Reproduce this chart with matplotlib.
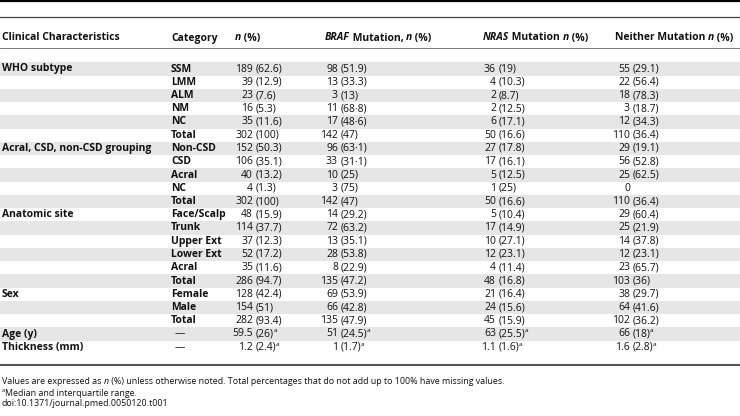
import matplotlib.pyplot as plt

plt.rcParams['font.family'] = ['Open Sans', 'DejaVu Sans']

# Table data
groups = ["WHO subtype", "", "", "", "", "",
          "Acral, CSD, non-CSD grouping", "", "", "", "",
          "Anatomic site", "", "", "", "", "",
          "Sex", "", "",
          "Age (y)", "Thickness (mm)"]
categories = ["SSM", "LMM", "ALM", "NM", "NC", "Total",
              "Non-CSD", "CSD", "Acral", "NC", "Total",
              "Face/Scalp", "Trunk", "Upper Ext", "Lower Ext", "Acral", "Total",
              "Female", "Male", "Total",
              "\u2014", "\u2014"]
n_pct = ["189 (62.6)", "39 (12.9)", "23 (7.6)", "16 (5.3)", "35 (11.6)", "302 (100)",
         "152 (50.3)", "106 (35.1)", "40 (13.2)", "4 (1.3)", "302 (100)",
         "48 (15.9)", "114 (37.7)", "37 (12.3)", "52 (17.2)", "35 (11.6)", "286 (94.7)",
         "128 (42.4)", "154 (51)", "282 (93.4)",
         "59.5 (26)^a", "1.2 (2.4)^a"]
braf = ["98 (51.9)", "13 (33.3)", "3 (13)", "11 (68\u00b78)", "17 (48\u00b76)", "142 (47)",
        "96 (63\u00b71)", "33 (31\u00b71)", "10 (25)", "3 (75)", "142 (47)",
        "14 (29.2)", "72 (63.2)", "13 (35.1)", "28 (53.8)", "8 (22.9)", "135 (47.2)",
        "69 (53.9)", "66 (42.8)", "135 (47.9)",
        "51 (24.5)^a", "1 (1.7)^a"]
nras = ["36 (19)", "4 (10.3)", "2 (8.7)", "2 (12.5)", "6 (17.1)", "50 (16.6)",
        "27 (17.8)", "17 (16.1)", "5 (12.5)", "1 (25)", "50 (16.6)",
        "5 (10.4)", "17 (14.9)", "10 (27.1)", "12 (23.1)", "4 (11.4)", "48 (16.8)",
        "21 (16.4)", "24 (15.6)", "45 (15.9)",
        "63 (25.5)^a", "1.1 (1.6)^a"]
neither = ["55 (29.1)", "22 (56.4)", "18 (78.3)", "3 (18.7)", "12 (34.3)", "110 (36.4)",
           "29 (19.1)", "56 (52.8)", "25 (62.5)", "0", "110 (36.4)",
           "29 (60.4)", "25 (21.9)", "14 (37.8)", "12 (23.1)", "23 (65.7)", "103 (36)",
           "38 (29.7)", "64 (41.6)", "102 (36.2)",
           "66 (18)^a", "1.6 (2.8)^a"]

FS = 7.5
TXT = '#111111'
fig = plt.figure(figsize=(7.4, 4.16), dpi=100)
ax = fig.add_axes([0, 0, 1, 1])
ax.set_xlim(0, 740)
ax.set_ylim(416, 0)
ax.axis('off')
renderer = fig.canvas.get_renderer()


def measure(s, size, kw):
    t = ax.text(0, 0, s, fontsize=size, **kw)
    w = t.get_window_extent(renderer).width
    t.remove()
    return w


def adv(s, size, kw):
    # advance width incl. spaces: measure between two bars
    return measure("|" + s + "|", size, kw) - measure("||", size, kw)


def rich(x, y, parts, size=FS):
    # draw runs of text with different styles side by side
    for s, kw in parts:
        ax.text(x, y, s, fontsize=size, va='center', ha='left', color=TXT, **kw)
        x += adv(s, size, kw)
    return x


def sup_a(x, y, size=FS):
    ax.text(x - 0.3, y - 3, "a", fontsize=size * 0.62, va='center', ha='left', color=TXT)


# rules
ax.plot([0, 740], [1, 1], color='black', lw=1.6)
ax.plot([0, 740], [17, 17], color='#444444', lw=0.9)
ax.plot([0, 740], [47.5, 47.5], color='#666666', lw=0.6)
ax.plot([0, 740], [365, 365], color='#555555', lw=1.5)

# header
B = dict(fontweight='bold')
BI = dict(fontweight='bold', fontstyle='italic')
hy = 38
rich(2, hy, [("Clinical Characteristics", B)])
rich(171, hy, [("Category", B)])
rich(235, hy, [("n", BI), (" (%)", B)])
rich(325, hy, [("BRAF", BI), (" Mutation, ", B), ("n", BI), (" (%)", B)])
rich(483, hy, [("NRAS", BI), (" Mutation ", B), ("n", BI), (" (%)", B)])
rich(615, hy, [("Neither Mutation ", B), ("n", BI), (" (%)", B)])

# body
y0, dy = 69, 13.25
anchors = [253, 338, 496, 630]
for i in range(len(categories)):
    y = y0 + i * dy
    if i % 2 == 0:
        ax.axhspan(y - 6.6, y + 6.6, color='#e6e6e6', lw=0, zorder=0)
    if groups[i]:
        ax.text(2, y, groups[i], fontsize=FS, fontweight='bold', va='center', color=TXT)
    if categories[i] == "\u2014":
        ax.text(175, y, categories[i], fontsize=FS, va='center', color=TXT)
    else:
        ax.text(171, y, categories[i], fontsize=FS, fontweight='bold', va='center', color=TXT)
    for col, ax_x in zip([n_pct, braf, nras, neither], anchors):
        s = col[i]
        has_a = s.endswith("^a")
        s = s.replace("^a", "")
        num, _, rest = s.partition(" ")
        ax.text(ax_x, y, num, fontsize=FS, va='center', ha='right', color=TXT)
        if rest:
            xe = rich(ax_x + 2.6, y, [(rest, {})])
            if has_a:
                sup_a(xe, y)

# footnotes
FN = 6.4
rich(2, 382, [("Values are expressed as ", {}), ("n", dict(fontstyle='italic')),
              (" (%) unless otherwise noted. Total percentages that do not add up to 100% have missing values.", {})],
     size=FN)
ax.text(2, 390.5, "a", fontsize=FN * 0.62, va='center', color=TXT)
ax.text(5.3, 393, "Median and interquartile range.", fontsize=FN, va='center', color=TXT)
ax.text(2, 404, "doi:10.1371/journal.pmed.0050120.t001", fontsize=FN, va='center', color=TXT)

fig.savefig("out.png", dpi=100)
